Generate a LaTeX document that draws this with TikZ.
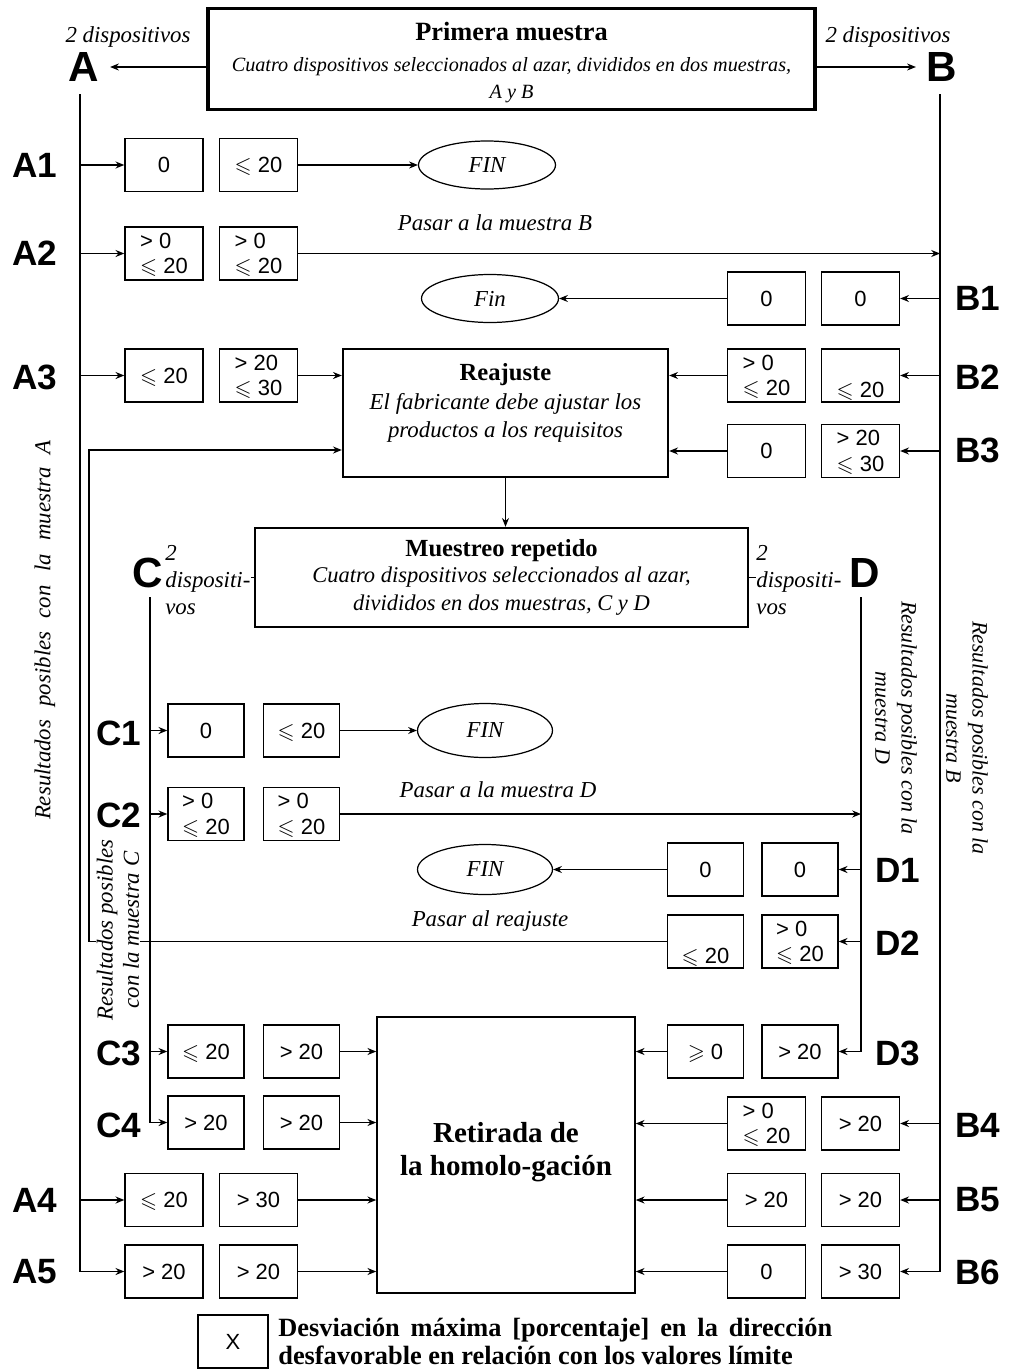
\documentclass[tikz,border=0pt]{standalone}
\usepackage{fontspec}
\setmainfont{Liberation Serif}
\setsansfont{Liberation Sans}
\usepackage{amssymb}
\usetikzlibrary{positioning,shapes.geometric,arrows.meta}
\newcommand{\leqv}{\ensuremath{\smash{\leqslant}}}
\newcommand{\geqv}{\ensuremath{\smash{\geqslant}}}

\begin{document}
\begin{tikzpicture}[x=0.02cm, y=-0.02cm,
  arr/.style={-{Stealth[length=5pt,width=4pt]}, line width=0.7pt},
  valbox/.style={draw, line width=0.8pt, minimum width=1.56cm, minimum height=1.06cm, inner sep=1pt, align=center,
    font=\sffamily\fontsize{12.5}{14.5}\selectfont},
  bigbox/.style={draw, line width=1.4pt, align=center},
  finnode/.style={draw, ellipse, line width=0.7pt, minimum width=2.74cm, minimum height=0.96cm, font=\itshape\fontsize{13}{15}\selectfont},
  rowlab/.style={font=\sffamily\bfseries\fontsize{20}{20}\selectfont},
  biglab/.style={font=\sffamily\bfseries\fontsize{24}{24}\selectfont, inner sep=1pt},
  note/.style={font=\itshape\fontsize{13}{15}\selectfont},
  sidetxt/.style={font=\itshape\fontsize{12.5}{15}\selectfont, align=center}
]
\useasboundingbox (0,0) rectangle (1009,1369);

% First sample
\node[bigbox, line width=1.8pt, minimum width=12.14cm, minimum height=1.96cm] (prim) at (511.5,59)
  {\rule{0pt}{14.5pt}\bfseries\fontsize{15}{17}\selectfont Primera muestra\\[6pt]
   \itshape\fontsize{11.5}{14}\selectfont Cuatro dispositivos seleccionados al azar, divididos en dos muestras,\\[3.5pt]
   \itshape\fontsize{11.5}{14}\selectfont A y B};
\node[biglab] (Alab) at (84,67) {A};
\node[biglab] (Blab) at (942,67) {B};
\node[note] (Adisp) at (128,37) {2 dispositivos};
\node[note] (Bdisp) at (888,37) {2 dispositivos};
\draw[arr, shorten >=5pt] (prim.west |- Alab) -- (Alab.east);
\draw[arr, shorten >=5pt] (prim.east |- Blab) -- (Blab.west);

% Lines of samples A and B
\coordinate (atop) at (80,94);
\coordinate (abot) at (80,1271.5);
\coordinate (btop) at (940,94);
\coordinate (bbot) at (940,1271.5);
\draw[line width=0.9pt] (atop) -- (abot);
\draw[line width=0.9pt] (btop) -- (bbot);
\node[sidetxt, rotate=90, font=\itshape\fontsize{13}{15}\selectfont] (resA) at (45,630)
  {\makebox[7.6cm][s]{Resultados posibles con la muestra A}};
\node[sidetxt, rotate=-90] (resB) at (967,738) {Resultados posibles con la\\muestra B};

% Row A1
\node[rowlab] (a1lab) at (35,165) {A1};
\node[valbox] (a1a) at (164,165) {0};
\node[valbox] (a1b) at (258.5,165) {\leqv\ 20};
\node[finnode] (fin1) at (487,165) {FIN};
\draw[arr] (a1a.west -| atop) -- (a1a.west);
\draw[arr] (a1b.east) -- (fin1.west);

% Row A2
\node[rowlab] (a2lab) at (35,253) {A2};
\node[valbox, align=left] (a2a) at (164,253.5) {> 0\\\leqv\ 20};
\node[valbox, align=left] (a2b) at (258.5,253.5) {> 0\\\leqv\ 20};
\node[note] (toB) at (495,223) {Pasar a la muestra B};
\draw[arr] (a2a.west -| atop) -- (a2a.west);
\draw[arr] (a2b.east) -- (a2b.east -| btop);

% Row B1
\node[rowlab] (b1lab) at (978,298.5) {B1};
\node[valbox] (b1a) at (766.5,298.5) {0};
\node[valbox] (b1b) at (860.5,298.5) {0};
\node[finnode] (fin2) at (490,298.5) {Fin};
\draw[arr] (b1b.east -| btop) -- (b1b.east);
\draw[arr] (b1a.west) -- (fin2.east);

% Readjustment
\node[bigbox, minimum width=6.5cm, minimum height=2.56cm] (reaj) at (505.5,413) {};
\node[align=center] (reajtxt) at (505.5,403)
  {\bfseries\fontsize{14}{16}\selectfont Reajuste\\[3.5pt]
   \itshape\fontsize{13}{16}\selectfont El fabricante debe ajustar los\\[4pt]
   \itshape\fontsize{13}{16}\selectfont productos a los requisitos};

% Row A3 / B2
\node[rowlab] (a3lab) at (35,377) {A3};
\node[valbox] (a3a) at (164,375.5) {\leqv\ 20};
\node[valbox, align=left] (a3b) at (258.5,375.5) {> 20\\\leqv\ 30};
\draw[arr] (a3a.west -| atop) -- (a3a.west);
\draw[arr] (a3b.east) -- (reaj.west |- a3b);
\node[rowlab] (b2lab) at (978,377) {B2};
\node[valbox, align=left] (b2a) at (766.5,375.5) {> 0\\\leqv\ 20};
\node[valbox, align=left] (b2b) at (860.5,375.5) {\strut\\\leqv\ 20};
\draw[arr] (b2b.east -| btop) -- (b2b.east);
\draw[arr] (b2a.west) -- (reaj.east |- b2a);

% Row B3
\node[rowlab] (b3lab) at (978,450) {B3};
\node[valbox] (b3a) at (766.5,451) {0};
\node[valbox, align=left] (b3b) at (860.5,451) {> 20\\\leqv\ 30};
\draw[arr] (b3b.east -| btop) -- (b3b.east);
\draw[arr] (b3a.west) -- (reaj.east |- b3a);

% Repeated sampling
\node[bigbox, minimum width=9.86cm, minimum height=1.98cm] (mues) at (501.5,577.5)
  {\bfseries\fontsize{14}{16}\selectfont Muestreo repetido\\[3pt]
   \itshape\fontsize{12.8}{15}\selectfont Cuatro dispositivos seleccionados al azar,\\[4pt]
   \itshape\fontsize{12.8}{15}\selectfont divididos en dos muestras, C y D};
\draw[arr] (reaj.south) -- (reaj.south |- mues.north);
\node[biglab] (Clab) at (148,573) {C};
\node[biglab] (Dlab) at (865,573) {D};
\node[note, align=left, anchor=west, inner sep=0, font=\itshape\fontsize{13}{15.5}\selectfont] (cdisp) at (165,580) {2\\dispositi-\\vos};
\node[note, align=left, anchor=west, inner sep=0, font=\itshape\fontsize{13}{15.5}\selectfont] (ddisp) at (756,580) {2\\dispositi-\\vos};
\draw[line width=0.8pt] (mues.west) -- (mues.west -| cdisp.east);
\draw[line width=0.8pt] (mues.east) -- (mues.east -| ddisp.west);

% Lines of samples C and D
\coordinate (ctop) at (150,597);
\coordinate (cbot) at (150,1122.5);
\coordinate (dtop) at (861,597);
\coordinate (dbot) at (861,1051.5);
\draw[line width=0.8pt] (ctop) -- (cbot);
\node[sidetxt, rotate=-90] (resD) at (896,718) {Resultados posibles con la\\muestra D};

% Row C1
\node[rowlab] (c1lab) at (119,733) {C1};
\node[valbox, minimum width=1.52cm] (c1a) at (206,730.5) {0};
\node[valbox, minimum width=1.52cm] (c1b) at (301.5,730.5) {\leqv\ 20};
\node[finnode, minimum width=2.7cm, minimum height=1.08cm] (fin3) at (485,730.5) {FIN};
\draw[arr] (c1a.west -| ctop) -- (c1a.west);
\draw[arr] (c1b.east) -- (fin3.west);

% Row C2
\node[rowlab] (c2lab) at (119,815) {C2};
\node[valbox, minimum width=1.52cm, align=left] (c2a) at (206,814) {> 0\\\leqv\ 20};
\node[valbox, minimum width=1.52cm, align=left] (c2b) at (301.5,814) {> 0\\\leqv\ 20};
\node[note] (toD) at (498,790) {Pasar a la muestra D};
\draw[arr] (c2a.west -| ctop) -- (c2a.west);
\draw[arr] (c2b.east) -- (c2b.east -| dtop);

% Row D1
\node[rowlab] (d1lab) at (898,870) {D1};
\node[valbox, minimum width=1.52cm] (d1a) at (705.5,869.5) {0};
\node[valbox, minimum width=1.52cm] (d1b) at (800,869.5) {0};
\node[finnode, minimum width=2.7cm, minimum height=1.0cm] (fin4) at (485,869.5) {FIN};
\draw[arr] (d1b.east -| dtop) -- (d1b.east);
\draw[arr] (d1a.west) -- (fin4.east);

% Row D2, back to readjustment
\node[rowlab] (d2lab) at (898,943) {D2};
\node[valbox, minimum width=1.52cm, align=left] (d2a) at (705.5,941.5) {\strut\\\leqv\ 20};
\node[valbox, minimum width=1.52cm, align=left] (d2b) at (800,941.5) {> 0\\\leqv\ 20};
\node[note] (toR) at (490,921) {Pasar al reajuste};
\coordinate (retL) at (89,941.5);
\coordinate (retU) at (89,450);
\draw[arr] (d2b.east -| dtop) -- (d2b.east);
\draw[arr] (d2a.west) -- (retL) -- (retU) -- (reaj.west |- retU);
\node[sidetxt, rotate=90, fill=white, inner sep=0.5pt, font=\itshape\fontsize{13}{15}\selectfont] (resC) at (118,930)
  {Resultados posibles\\con la muestra C};

% Withdrawal
\node[draw, line width=0.9pt, align=center, minimum width=5.16cm, minimum height=5.52cm,
  font=\bfseries\fontsize{16.5}{19}\selectfont] (ret) at (506,1155) {Retirada de\\la homolo-gación\\[-12pt]};

% Row C3 / D3
\node[rowlab] (c3lab) at (119,1053) {C3};
\node[valbox, minimum width=1.52cm] (c3a) at (206,1051.5) {\leqv\ 20};
\node[valbox, minimum width=1.52cm] (c3b) at (301.5,1051.5) {> 20};
\draw[arr] (c3a.west -| ctop) -- (c3a.west);
\draw[arr] (c3b.east) -- (ret.west |- c3b);
\node[rowlab] (d3lab) at (898,1053) {D3};
\node[valbox, minimum width=1.52cm] (d3a) at (705.5,1051.5) {\geqv\ 0};
\node[valbox, minimum width=1.52cm] (d3b) at (800,1051.5) {> 20};
\draw[arr] (dtop) -- (dbot) -- (d3b.east);
\draw[arr] (d3a.west) -- (ret.east |- d3a);

% Row C4 / B4
\node[rowlab] (c4lab) at (119,1125) {C4};
\node[valbox, minimum width=1.52cm] (c4a) at (206,1122.5) {> 20};
\node[valbox, minimum width=1.52cm] (c4b) at (301.5,1122.5) {> 20};
\draw[arr] (cbot) -- (c4a.west);
\draw[arr] (c4b.east) -- (ret.west |- c4b);
\node[rowlab] (b4lab) at (978,1125) {B4};
\node[valbox, align=left] (b4a) at (766.5,1123.5) {> 0\\\leqv\ 20};
\node[valbox] (b4b) at (860.5,1123.5) {> 20};
\draw[arr] (b4b.east -| btop) -- (b4b.east);
\draw[arr] (b4a.west) -- (ret.east |- b4a);

% Row A4 / B5
\node[rowlab] (a4lab) at (35,1200) {A4};
\node[valbox] (a4a) at (164,1200) {\leqv\ 20};
\node[valbox] (a4b) at (258.5,1200) {> 30};
\draw[arr] (a4a.west -| atop) -- (a4a.west);
\draw[arr] (a4b.east) -- (ret.west |- a4b);
\node[rowlab] (b5lab) at (978,1200) {B5};
\node[valbox] (b5a) at (766.5,1200) {> 20};
\node[valbox] (b5b) at (860.5,1200) {> 20};
\draw[arr] (b5b.east -| btop) -- (b5b.east);
\draw[arr] (b5a.west) -- (ret.east |- b5a);

% Row A5 / B6
\node[rowlab] (a5lab) at (35,1272) {A5};
\node[valbox] (a5a) at (164,1271.5) {> 20};
\node[valbox] (a5b) at (258.5,1271.5) {> 20};
\draw[arr] (abot) -- (a5a.west);
\draw[arr] (a5b.east) -- (ret.west |- a5b);
\node[rowlab] (b6lab) at (978,1272) {B6};
\node[valbox] (b6a) at (766.5,1271.5) {0};
\node[valbox] (b6b) at (860.5,1271.5) {> 30};
\draw[arr] (bbot) -- (b6b.east);
\draw[arr] (b6a.west) -- (ret.east |- b6a);

% Legend
\node[valbox, minimum width=1.4cm] (legbox) at (233,1341.5) {X};
\node[anchor=west, align=left, inner sep=0, font=\bfseries\fontsize{15}{16}\selectfont] (legtxt) at (278,1341.5)
  {\makebox[11.08cm][s]{Desviación máxima [porcentaje] en la dirección}\\
   desfavorable en relación con los valores límite};

\end{tikzpicture}
\end{document}
